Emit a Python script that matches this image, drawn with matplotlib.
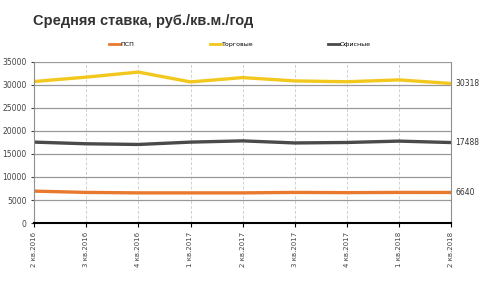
import matplotlib.pyplot as plt
import numpy as np

quarters = ['2 кв.2016', '3 кв.2016', '4 кв.2016', '1 кв.2017', '2 кв.2017',
            '3 кв.2017', '4 кв.2017', '1 кв.2018', '2 кв.2018']
psp = [6930, 6650, 6550, 6550, 6550, 6650, 6600, 6650, 6640]
trade = [30750, 31700, 32800, 30660, 31600, 30880, 30700, 31100, 30318]
office = [17580, 17220, 17070, 17580, 17850, 17400, 17500, 17800, 17488]

c_psp = '#E8792E'
c_trade = '#F2C81E'
c_office = '#4A4A4A'

fig = plt.figure(figsize=(4.8, 2.95), dpi=100)
ax = fig.add_axes([0.071, 0.244, 0.869, 0.546])

x = np.arange(len(quarters))
ax.plot(x, psp, color=c_psp, lw=2.4, label='ПСП')
ax.plot(x, trade, color=c_trade, lw=2.4, label='Торговые')
ax.plot(x, office, color=c_office, lw=2.4, label='Офисные')

ax.set_xlim(0, len(quarters) - 1)
ax.set_ylim(0, 35000)
ax.set_yticks(np.arange(0, 35001, 5000))
ax.set_xticks(x)
ax.set_xticklabels(quarters, rotation=90, fontsize=5, color='#444444')
ax.tick_params(axis='y', labelsize=5.5, colors='#444444', length=2)
ax.tick_params(axis='x', length=3, color='black')

ax.yaxis.grid(True, color='#999999', lw=0.9)
ax.xaxis.grid(True, color='#D0D0D0', lw=0.7, ls=(0, (3, 2)))
ax.set_axisbelow(True)

for s in ['left', 'right']:
    ax.spines[s].set_color('#909090')
ax.spines['top'].set_visible(False)
ax.spines['bottom'].set_color('black')
ax.spines['bottom'].set_linewidth(1.5)

for vals in [trade, office, psp]:
    ax.text(len(quarters) - 1 + 0.08, vals[-1], str(vals[-1]), fontsize=5.5,
            va='center', ha='left', color='#333333')

fig.text(0.068, 0.93, 'Средняя ставка, руб./кв.м./год', fontsize=10.5,
         fontweight='bold', family='Liberation Sans', color='#333333',
         va='center')

leg = fig.legend(loc='center', bbox_to_anchor=(0.5, 0.85), ncol=3, fontsize=4.5,
                 frameon=False, handlelength=1.8, columnspacing=12,
                 handletextpad=0.1)
for line in leg.get_lines():
    line.set_linewidth(2)

fig.savefig('out.png', dpi=100)
